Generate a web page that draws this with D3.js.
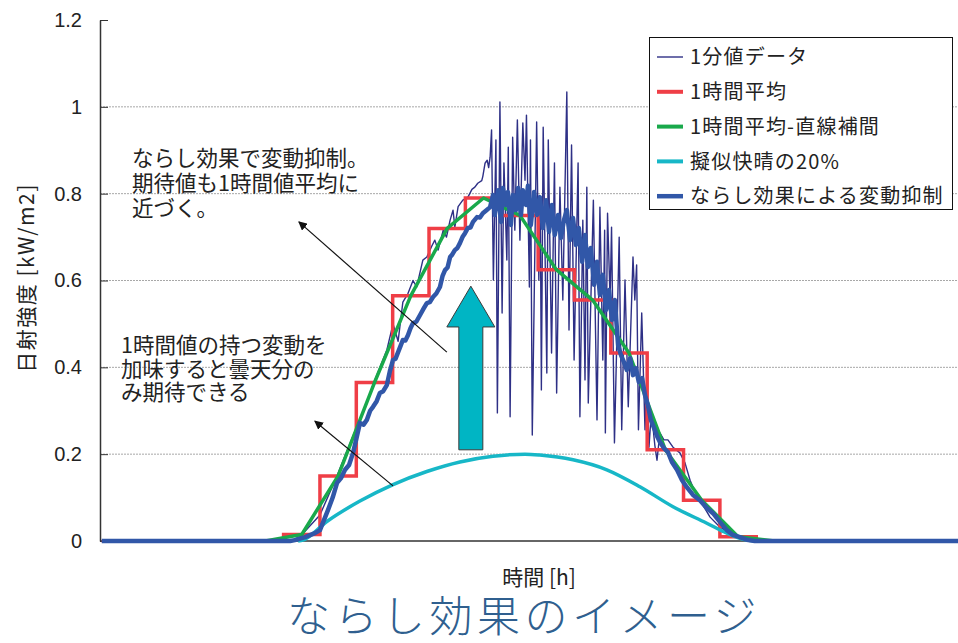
<!DOCTYPE html>
<html>
<head>
<meta charset="utf-8">
<script src="https://cdn.jsdelivr.net/npm/d3@7"></script>
<style>
  body { margin: 0; background: #fff; }
  svg text { font-family: "Noto Sans CJK JP", "Liberation Sans", sans-serif; fill: #222; }
  .tickLabel text { font-family: "Liberation Sans", Arial, sans-serif; font-size: 20px; fill: #222; }
</style>
</head>
<body>
<div id="chart"></div>
<script>
// hourly averages: value for hour h .. h+1
var hourStarts = [5, 6, 7, 8, 9, 10, 11, 12, 13, 14, 15, 16, 17];
var hourlyAvg = [0.015, 0.15, 0.365, 0.565, 0.72, 0.79, 0.75, 0.625, 0.555, 0.433, 0.21, 0.094, 0.01];

// 1-minute data, [hour, kW/m2]
var minuteData = [
  [0,0],[5.18,0],[5.45,0.01],[6.0,0.06],[6.47,0.15],[6.9,0.24],[7.1,0.28],[7.3,0.32],[7.46,0.36],[7.65,0.40],
  [7.84,0.44],[8.01,0.50],[8.15,0.46],[8.28,0.55],[8.42,0.57],[8.56,0.60],[8.66,0.585],[8.83,0.647],[8.94,0.654],
  [9.08,0.68],[9.16,0.693],[9.25,0.67],[9.39,0.716],[9.48,0.70],[9.58,0.739],[9.66,0.762],[9.71,0.723],[9.8,0.77],
  [9.93,0.785],[10.07,0.792],[10.18,0.81],[10.26,0.815],[10.34,0.824],[10.45,0.83],[10.48,0.84],[10.54,0.87],
  [10.6,0.877],[10.64,0.86],[10.68,0.884],
  [10.72,0.947],[10.77,0.601],[10.84,0.924],[10.88,0.295],[10.95,1.011],[11.01,0.525],[11.06,0.871],[11.14,0.647],
  [11.18,0.907],[11.23,0.286],[11.3,0.93],[11.36,0.716],[11.43,0.97],[11.5,0.693],[11.58,0.963],[11.64,0.831],
  [11.68,0.981],[11.76,0.585],[11.79,0.924],[11.84,0.244],[11.96,0.965],[12.02,0.601],[12.06,0.785],[12.09,0.348],
  [12.14,0.953],[12.24,0.387],[12.28,0.924],[12.37,0.433],[12.45,0.871],[12.51,0.341],[12.6,0.815],[12.68,0.555],
  [12.79,1.034],[12.85,0.486],[12.92,0.912],[12.99,0.417],[13.1,0.871],[13.15,0.286],[13.23,0.739],[13.29,0.371],
  [13.34,0.815],[13.38,0.318],[13.52,0.785],[13.62,0.279],[13.7,0.769],[13.78,0.417],[13.83,0.716],[13.85,0.249],
  [13.91,0.755],[13.98,0.555],[14.02,0.723],[14.1,0.226],[14.23,0.70],[14.3,0.256],[14.39,0.601],[14.48,0.309],
  [14.61,0.654],[14.66,0.555],[14.71,0.636],[14.76,0.256],[14.85,0.525],[14.94,0.256],[14.99,0.371],[15.05,0.216],
  [15.1,0.279],[15.16,0.262],[15.21,0.221],[15.27,0.186],[15.35,0.249],[15.46,0.233],[15.57,0.233],[15.71,0.216],
  [15.9,0.203],[16.04,0.18],[16.18,0.14],[16.26,0.124],[16.45,0.094],[16.73,0.055],[17.0,0.032],[17.28,0.018],
  [17.55,0.009],[17.91,0.002],[18.1,0],[24,0]
];

// 20% of the pseudo clear-sky curve
var clearSky20 = [
  [5.4,0],[5.53,0.002],[6.19,0.045],[7.1,0.092],[8.01,0.13],[8.94,0.16],[9.85,0.182],[10.76,0.195],
  [11.64,0.2],[12.05,0.198],[12.96,0.187],[13.89,0.164],[14.8,0.125],[15.71,0.079],[16.64,0.041],
  [17.19,0.018],[17.74,0.002],[18.0,0]
];

// smoothed output (ならし効果)
var smoothed = [
  [0,0],[5.18,0],[5.31,0.002],[5.59,0.009],[5.86,0.018],[6.0,0.025],[6.22,0.071],[6.35,0.1],[6.47,0.134],[6.58,0.145],
  [6.69,0.164],[6.8,0.175],[6.91,0.203],[7.0,0.235],[7.1,0.272],[7.2,0.268],[7.29,0.279],[7.38,0.3],[7.46,0.309],
  [7.56,0.322],[7.65,0.341],[7.74,0.345],[7.84,0.359],[7.92,0.39],[8.01,0.417],[8.08,0.42],[8.15,0.435],[8.22,0.45],
  [8.28,0.463],[8.35,0.462],[8.42,0.474],[8.49,0.49],[8.56,0.502],[8.65,0.505],[8.75,0.52],[8.85,0.535],[8.94,0.548],
  [9.02,0.55],[9.11,0.562],[9.2,0.57],[9.3,0.585],[9.37,0.61],[9.44,0.624],[9.51,0.63],[9.58,0.654],[9.64,0.66],
  [9.71,0.67],[9.78,0.675],[9.85,0.686],[9.92,0.7],[9.99,0.709],[10.07,0.721],[10.14,0.722],[10.21,0.735],
  [10.32,0.746],[10.4,0.745],[10.48,0.755],[10.58,0.762],
  [10.68,0.769],[10.76,0.797],[10.81,0.751],[10.9,0.808],[10.98,0.735],[11.03,0.813],[11.12,0.774],[11.17,0.804],
  [11.25,0.728],[11.31,0.797],[11.39,0.762],[11.45,0.813],[11.53,0.751],[11.58,0.808],[11.67,0.774],[11.72,0.818],
  [11.8,0.728],[11.89,0.804],[11.97,0.751],[12.05,0.792],[12.13,0.721],[12.22,0.785],[12.3,0.712],[12.38,0.774],
  [12.46,0.705],[12.55,0.751],[12.63,0.698],[12.71,0.739],[12.79,0.762],[12.88,0.693],[12.96,0.744],[13.04,0.682],
  [13.12,0.721],[13.21,0.643],[13.29,0.705],[13.37,0.631],[13.45,0.675],[13.54,0.59],[13.62,0.643],[13.7,0.567],
  [13.78,0.613],[13.87,0.532],[13.95,0.578],[14.03,0.509],[14.11,0.555],[14.2,0.451],[14.28,0.428],[14.36,0.412],
  [14.44,0.394],[14.53,0.421],[14.61,0.382],[14.69,0.398],[14.77,0.366],[14.86,0.375],[14.94,0.336],[15.02,0.313],
  [15.1,0.279],[15.19,0.26],[15.27,0.242],[15.35,0.228],[15.46,0.214],[15.57,0.205],[15.68,0.182],[15.82,0.164],
  [15.96,0.14],[16.09,0.124],[16.26,0.106],[16.45,0.094],[16.64,0.076],[16.81,0.064],[17.0,0.044],[17.19,0.025],
  [17.36,0.014],[17.55,0.009],[17.74,0.003],[17.96,0],[24,0]
];

var yTicks = [0, 0.2, 0.4, 0.6, 0.8, 1.0, 1.2];
var legendLabels = ["1分値データ", "1時間平均", "1時間平均-直線補間", "擬似快晴の20%", "ならし効果による変動抑制"];
var noteTop = ["ならし効果で変動抑制。", "期待値も1時間値平均に", "近づく。"];
var noteBottom = ["1時間値の持つ変動を", "加味すると曇天分の", "み期待できる"];

var colors = {
  minute: "#2e3086",
  hourly: "#ef3e46",
  linear: "#19a94b",
  clear: "#17b7c7",
  smooth: "#3157a8"
};

var width = 958, height = 643;
var plotLeft = 100, plotTop = 20, plotBottom = 541;

var svg = d3.select("#chart").append("svg")
    .attr("width", width)
    .attr("height", height);

var x = d3.scaleLinear().domain([0, 24]).range([101.8, 974.4]);
var y = d3.scaleLinear().domain([0, 1.2]).range([plotBottom, plotTop]);

//gridlines
svg.append("g").selectAll("line")
    .data(yTicks.filter(function(d) { return d > 0 && d < 1.2; }))
    .enter().append("line")
    .attr("x1", plotLeft).attr("x2", width)
    .attr("y1", function(d) { return y(d); })
    .attr("y2", function(d) { return y(d); })
    .attr("stroke", "#a8a8a8")
    .attr("stroke-width", 1)
    .attr("stroke-dasharray", "2,1");

//y axis
var yAxis = d3.axisLeft(y)
    .tickValues(yTicks)
    .tickFormat(function(d) { return String(+d.toFixed(1)); })
    .tickSizeInner(-8)
    .tickSizeOuter(0)
    .tickPadding(18);

var yAxisG = svg.append("g")
    .attr("class", "tickLabel")
    .attr("transform", "translate(" + plotLeft + ",0)")
    .call(yAxis);
yAxisG.select(".domain").attr("stroke", "#333").attr("stroke-width", 1.5);
yAxisG.selectAll(".tick line").attr("stroke", "#333");

//x axis line
svg.append("line")
    .attr("x1", plotLeft).attr("x2", width)
    .attr("y1", plotBottom).attr("y2", plotBottom)
    .attr("stroke", "#333").attr("stroke-width", 1.5);

var line = d3.line()
    .x(function(d) { return x(d[0]); })
    .y(function(d) { return y(d[1]); });

// 1時間平均 step series
var stepPts = [[0, 0]];
hourStarts.forEach(function(h, i) { stepPts.push([h, hourlyAvg[i]]); });
stepPts.push([hourStarts[hourStarts.length - 1] + 1, 0]);
stepPts.push([24, 0]);

// linear interpolation between hour midpoints
var linPts = [[hourStarts[0] - 0.5, 0]];
hourStarts.forEach(function(h, i) { linPts.push([h + 0.5, hourlyAvg[i]]); });
linPts.push([hourStarts[hourStarts.length - 1] + 1.5, 0]);

var plot = svg.append("g");

plot.append("path")
    .datum(minuteData)
    .attr("d", line)
    .attr("fill", "none")
    .attr("stroke", colors.minute)
    .attr("stroke-width", 1.4)
    .attr("stroke-linejoin", "round");

plot.append("path")
    .datum(stepPts)
    .attr("d", line.curve(d3.curveStepAfter))
    .attr("fill", "none")
    .attr("stroke", colors.hourly)
    .attr("stroke-width", 3.5);
line.curve(d3.curveLinear);

plot.append("path")
    .datum(linPts)
    .attr("d", line)
    .attr("fill", "none")
    .attr("stroke", colors.linear)
    .attr("stroke-width", 3.5)
    .attr("stroke-linejoin", "round");

plot.append("path")
    .datum(clearSky20)
    .attr("d", d3.line()
        .x(function(d) { return x(d[0]); })
        .y(function(d) { return y(d[1]); })
        .curve(d3.curveMonotoneX))
    .attr("fill", "none")
    .attr("stroke", colors.clear)
    .attr("stroke-width", 3.5);

plot.append("path")
    .datum(smoothed)
    .attr("d", line)
    .attr("fill", "none")
    .attr("stroke", colors.smooth)
    .attr("stroke-width", 4.5)
    .attr("stroke-linejoin", "round");

//big up arrow (in data units)
var bigArrow = [[9.82, 0.21], [10.48, 0.21], [10.48, 0.493], [10.81, 0.493], [10.15, 0.587], [9.49, 0.493], [9.82, 0.493]];
svg.append("polygon")
    .attr("points", bigArrow.map(function(p) { return x(p[0]) + "," + y(p[1]); }).join(" "))
    .attr("fill", "#00b5c4")
    .attr("stroke", "#3a3a3a")
    .attr("stroke-width", 1);

//thin pointer arrows
svg.append("defs").append("marker")
    .attr("id", "head")
    .attr("viewBox", "0 0 10 10")
    .attr("refX", 9).attr("refY", 5)
    .attr("markerWidth", 9).attr("markerHeight", 9)
    .attr("markerUnits", "userSpaceOnUse")
    .attr("orient", "auto")
    .append("path").attr("d", "M0,0 L10,5 L0,10 z").attr("fill", "#111");

var pointers = [
  [[9.49, 0.435], [5.42, 0.735]],
  [[8.01, 0.127], [5.86, 0.276]]
];
svg.selectAll(".pointer").data(pointers).enter().append("line")
    .attr("class", "pointer")
    .attr("x1", function(d) { return x(d[0][0]); })
    .attr("y1", function(d) { return y(d[0][1]); })
    .attr("x2", function(d) { return x(d[1][0]); })
    .attr("y2", function(d) { return y(d[1][1]); })
    .attr("stroke", "#111")
    .attr("stroke-width", 1.2)
    .attr("marker-end", "url(#head)");

//notes
svg.append("text").selectAll("tspan").data(noteTop).enter().append("tspan")
    .attr("x", 132)
    .attr("y", function(d, i) { return 166 + i * 25; })
    .style("font-size", "21.5px")
    .text(function(d) { return d; });

svg.append("text").selectAll("tspan").data(noteBottom).enter().append("tspan")
    .attr("x", 121)
    .attr("y", function(d, i) { return 353 + i * 23.5; })
    .style("font-size", "21.5px")
    .text(function(d) { return d; });

//legend
var legend = svg.append("g");
legend.append("rect")
    .attr("x", 649.5).attr("y", 37.5)
    .attr("width", 303).attr("height", 172)
    .attr("fill", "#fff")
    .attr("stroke", "#111")
    .attr("stroke-width", 1);

var legendColors = [colors.minute, colors.hourly, colors.linear, colors.clear, colors.smooth];
var legendWidths = [1.4, 4, 4, 4, 4.5];
var items = legend.selectAll(".item").data(legendLabels).enter().append("g")
    .attr("class", "item")
    .attr("transform", function(d, i) { return "translate(0," + (57 + i * 34.8) + ")"; });
items.append("line")
    .attr("x1", 657).attr("x2", 683)
    .attr("stroke", function(d, i) { return legendColors[i]; })
    .attr("stroke-width", function(d, i) { return legendWidths[i]; });
items.append("text")
    .attr("x", 690)
    .attr("dy", "0.36em")
    .style("font-size", "20px")
    .style("letter-spacing", "1.2px")
    .text(function(d) { return d; });

//axis titles
svg.append("text")
    .attr("transform", "translate(27,278) rotate(-90)")
    .attr("text-anchor", "middle")
    .attr("dy", "0.35em")
    .style("font-size", "21px")
    .style("letter-spacing", "1.5px")
    .text("日射強度 [kW/m2]");

svg.append("text")
    .attr("x", 539).attr("y", 578)
    .attr("text-anchor", "middle")
    .attr("dy", "0.35em")
    .style("font-size", "21px")
    .text("時間 [h]");

//title
svg.append("text")
    .attr("x", 524).attr("y", 617)
    .attr("text-anchor", "middle")
    .attr("dy", "0.35em")
    .style("font-size", "43px")
    .style("font-weight", 300)
    .style("letter-spacing", "4.5px")
    .style("fill", "#2f5f8f")
    .text("ならし効果のイメージ");
</script>
</body>
</html>
